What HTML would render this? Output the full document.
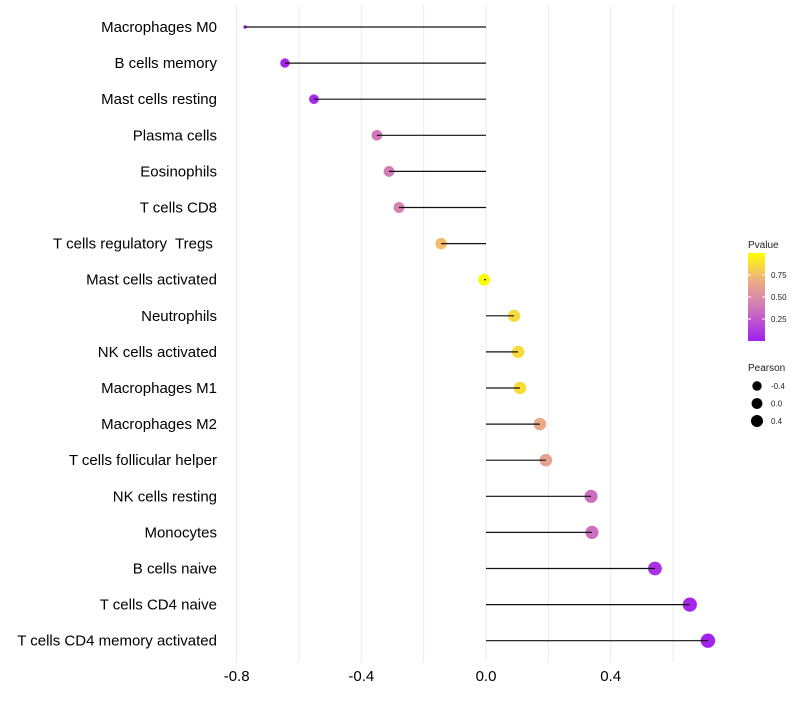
<!DOCTYPE html>
<html><head><meta charset="utf-8"><style>
body{margin:0;background:#fff;font-family:"Liberation Sans",sans-serif}
text{white-space:pre}
</style></head><body>
<svg id="chart" width="800" height="700" xmlns="http://www.w3.org/2000/svg"></svg>
<script>
const categories=["Macrophages M0","B cells memory","Mast cells resting","Plasma cells","Eosinophils","T cells CD8","T cells regulatory  Tregs ","Mast cells activated","Neutrophils","NK cells activated","Macrophages M1","Macrophages M2","T cells follicular helper","NK cells resting","Monocytes","B cells naive","T cells CD4 naive","T cells CD4 memory activated"];
const pearson=[-0.773,-0.645,-0.552,-0.350,-0.311,-0.279,-0.144,-0.006,0.090,0.103,0.109,0.173,0.192,0.337,0.340,0.542,0.654,0.712];
const pvalues=[0.01,0.02,0.05,0.38,0.40,0.45,0.75,0.99,0.86,0.86,0.87,0.66,0.62,0.35,0.35,0.08,0.03,0.01];
const xTicks=[-0.8,-0.4,0.0,0.4];
const xTickLabels=["-0.8","-0.4","0.0","0.4"];
const legendP=[0.75,0.50,0.25];
const legendPearson=[-0.4,0.0,0.4];

const svg=document.getElementById('chart');
const NS="http://www.w3.org/2000/svg";
function x(v){return 486+v*311.7;}
function y(i){return 27+i*36.1;}
function r(p){return p<-0.7?1.8:Math.sqrt(Math.max(2,36+22*p));}
const stops=[[0,[160,32,240]],[0.4,[210,122,184]],[0.7,[238,176,128]],[1,[255,255,0]]];
function col(p){for(let k=1;k<stops.length;k++){if(p<=stops[k][0]){const a=stops[k-1],b=stops[k],t=(p-a[0])/(b[0]-a[0]);return 'rgb('+a[1].map((c,j)=>Math.round(c+(b[1][j]-c)*t)).join(',')+')';}}return 'rgb(255,255,0)';}
function mk(tag,attrs,parent){const e=document.createElementNS(NS,tag);for(const k in attrs)e.setAttribute(k,attrs[k]);(parent||svg).appendChild(e);return e;}

for(let v=-0.8;v<=0.61;v+=0.2){const g=mk('line',{x1:x(v),x2:x(v),y1:5,y2:662,stroke:'#ebebeb','stroke-width':1});

}
xTicks.forEach((v,i)=>{const t=mk('text',{x:x(v),y:681,'text-anchor':'middle','font-size':15,fill:'#000'});t.textContent=xTickLabels[i];

});
categories.forEach((c,i)=>{
const t=mk('text',{x:217,y:y(i)+5,'text-anchor':'end','font-size':15,fill:'#000'});t.textContent=c;


const d=mk('circle',{cx:x(pearson[i]),cy:y(i),r:r(pearson[i]),fill:col(pvalues[i])});


const l=mk('line',{x1:x(pearson[i]),x2:x(0),y1:y(i),y2:y(i),stroke:'#111','stroke-width':1.2});


});
const defs=mk('defs',{});const lg=mk('linearGradient',{id:'pg',x1:0,y1:1,x2:0,y2:0},defs);
stops.forEach(s=>mk('stop',{offset:s[0],'stop-color':col(s[0])},lg));
let t=mk('text',{x:748,y:248,'font-size':10,fill:'#222'});t.textContent='Pvalue';


const bar=mk('rect',{x:748,y:253,width:17,height:88,fill:'url(#pg)'});


legendP.forEach(p=>{const yy=341-p*88;mk('line',{x1:748,x2:751,y1:yy,y2:yy,stroke:'#fff'});mk('line',{x1:762,x2:765,y1:yy,y2:yy,stroke:'#fff'});
const tt=mk('text',{x:771,y:yy+3,'font-size':8,fill:'#222'});tt.textContent=p.toFixed(2);

});
t=mk('text',{x:748,y:371,'font-size':10,fill:'#222'});t.textContent='Pearson';


legendPearson.forEach((p,i)=>{const yy=386+i*17.5;const c=mk('circle',{cx:757,cy:yy,r:r(p)*0.9,fill:'#000'});


const tt=mk('text',{x:771,y:yy+3,'font-size':8,fill:'#222'});tt.textContent=p.toFixed(1);

});
</script>
</body></html>
